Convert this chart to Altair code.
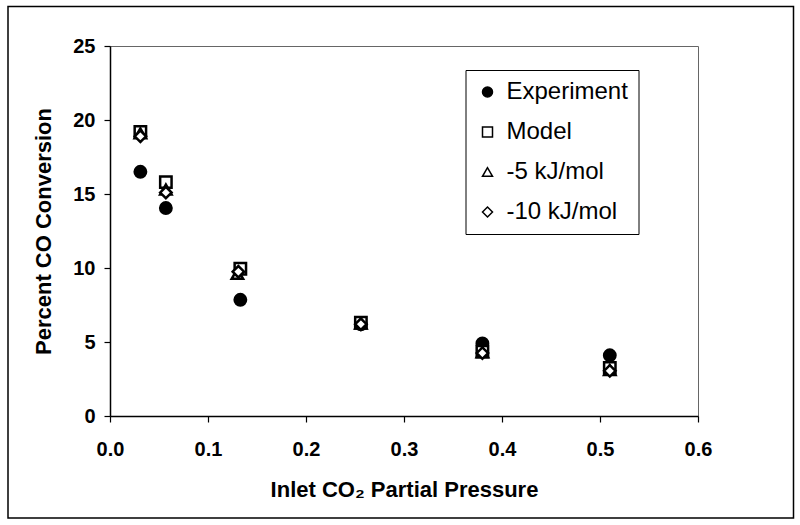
import altair as alt
import pandas as pd

# ---- data ----
series_names = ["Experiment", "Model", "-5 kJ/mol", "-10 kJ/mol"]

exp_x = [0.031, 0.057, 0.133, 0.256, 0.380, 0.510]
exp_y = [16.5, 14.05, 7.85, 6.2, 4.9, 4.1]

model_x = [0.031, 0.057, 0.133, 0.256, 0.380, 0.510]
model_y = [19.2, 15.8, 9.95, 6.3, 4.35, 3.25]

m5_x = [0.031, 0.057, 0.130, 0.256, 0.380, 0.510]
m5_y = [19.1, 15.3, 9.6, 6.25, 4.3, 3.1]

m10_x = [0.031, 0.057, 0.131, 0.256, 0.380, 0.510]
m10_y = [18.9, 15.1, 9.75, 6.2, 4.25, 3.05]

x_ticks = [0.0, 0.1, 0.2, 0.3, 0.4, 0.5, 0.6]
y_ticks = [0, 5, 10, 15, 20, 25]

rows = []
for name, xs, ys in [
    ("Experiment", exp_x, exp_y),
    ("Model", model_x, model_y),
    ("-5 kJ/mol", m5_x, m5_y),
    ("-10 kJ/mol", m10_x, m10_y),
]:
    for xv, yv in zip(xs, ys):
        rows.append({"series": name, "x": xv, "y": yv})
df = pd.DataFrame(rows)

FONT = "Liberation Sans"

points = alt.Chart(df).mark_point(size=130, strokeWidth=2.5, opacity=1).encode(
    x=alt.X("x:Q",
            scale=alt.Scale(domain=[0, 0.6], nice=False, zero=False),
            axis=alt.Axis(values=x_ticks, format=".1f",
                          title="Inlet CO\u2082 Partial Pressure")),
    y=alt.Y("y:Q",
            scale=alt.Scale(domain=[0, 25], nice=False),
            axis=alt.Axis(values=y_ticks, title="Percent CO Conversion")),
    shape=alt.Shape("series:N",
                    scale=alt.Scale(domain=series_names,
                                    range=["circle", "square", "triangle-up", "diamond"]),
                    legend=alt.Legend(title=None)),
    fill=alt.Fill("series:N",
                  scale=alt.Scale(domain=series_names,
                                  range=["black", "white", "white", "white"]),
                  legend=alt.Legend(title=None)),
    stroke=alt.Stroke("series:N",
                      scale=alt.Scale(domain=series_names,
                                      range=["black", "black", "black", "black"]),
                      legend=alt.Legend(title=None)),
    order=alt.Order("order:Q"),
).transform_calculate(
    order="indexof(['Experiment','Model','-5 kJ/mol','-10 kJ/mol'], datum.series)"
)

border = alt.Chart(alt.Data(values=[{"a": 1}])).mark_rect(
    fillOpacity=0, stroke="black", strokeWidth=1.5
).encode(
    x=alt.value(-102), x2=alt.value(683.5),
    y=alt.value(-39.5), y2=alt.value(472),
)

chart = alt.layer(border, points).properties(
    width=588, height=370,
    autosize="none",
    padding={"left": 110, "top": 46, "right": 102, "bottom": 109},
    background="white",
).configure_view(
    stroke="#666666", strokeWidth=1
).configure_axis(
    grid=False,
    domainColor="black", domainWidth=1.5,
    tickColor="black", tickWidth=1.2, tickSize=6,
    labelFont=FONT, labelFontSize=20, labelFontWeight="bold", labelColor="black",
    titleFont=FONT, titleFontSize=22, titleFontWeight="bold", titleColor="black",
).configure_axisX(
    labelPadding=17, titlePadding=20, labelFlush=False,
).configure_axisY(
    labelPadding=9, titlePadding=17,
).configure_legend(
    orient="none", legendX=355.5, legendY=24,
    strokeColor="black", fillColor="white", padding=10,
    labelFont=FONT, labelFontSize=24, labelColor="black",
    symbolSize=100, symbolStrokeWidth=1.5, labelOffset=7, rowPadding=16,
)

chart.save("out.html", embed_options={"renderer": "svg", "actions": False})
